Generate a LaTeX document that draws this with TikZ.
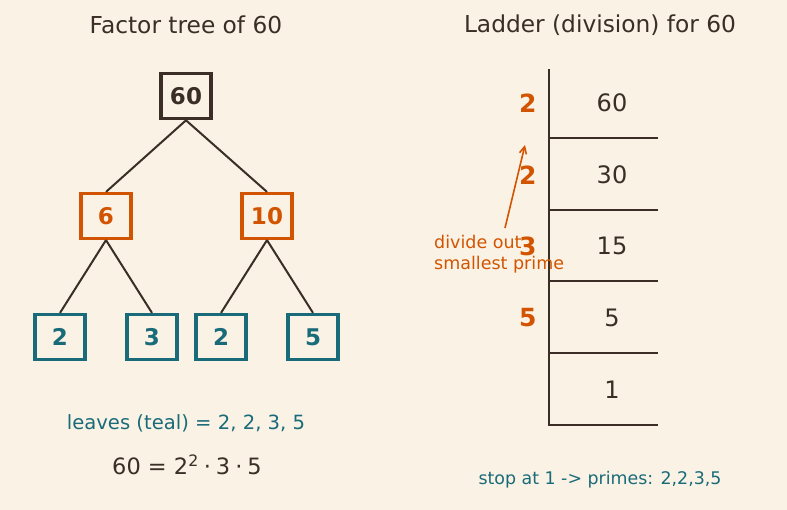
\documentclass[tikz,border=0pt]{standalone}
\usepackage{fontspec}
\setmainfont{DejaVu Sans}
\usetikzlibrary{arrows.meta,positioning}
\definecolor{bgcol}{RGB}{250,242,228}
\definecolor{ink}{RGB}{58,46,38}
\definecolor{orng}{RGB}{211,84,0}
\definecolor{tealc}{RGB}{26,107,122}
\newcommand{\sz}[1]{\fontsize{#1}{1.2\dimexpr#1pt\relax}\selectfont}

\begin{document}
\begin{tikzpicture}[
  x=1pt, y=-1pt,
  title/.style={text=ink, font=\sz{23.3}},
  fbox/.style={draw, line width=3.2pt, minimum width=50pt, minimum height=45pt,
               inner sep=0pt, font=\sz{23}\bfseries},
  rootbox/.style={fbox, draw=ink, text=ink, line width=3.6pt},
  midbox/.style={fbox, draw=orng, text=orng},
  leafbox/.style={fbox, draw=tealc, text=tealc},
  branch/.style={draw=ink, line width=2pt},
  rung/.style={draw=ink, line width=2.5pt},
  num/.style={text=ink, font=\sz{24}},
  dvs/.style={text=orng, font=\sz{25}\bfseries, anchor=east},
  ar/.style={-{Straight Barb[length=7pt,width=7pt]}, draw=orng, line width=1.6pt},
]
  \fill[bgcol] (0,0) rectangle (787,510);
  \useasboundingbox (0,0) rectangle (787,510);

  % factor tree
  \node[title] (tl) at (186,25) {Factor tree of 60};
  \node[rootbox] (r60) at (186,96) {60};
  \node[midbox] (n6) at (106,216) {6};
  \node[midbox] (n10) at (267,216) {10};
  \node[leafbox] (la) at (60,337) {2};
  \node[leafbox] (lb) at (152,337) {3};
  \node[leafbox] (lc) at (221,337) {2};
  \node[leafbox] (ld) at (313,337) {5};

  \draw[branch] (r60.south) -- (n6.north);
  \draw[branch] (r60.south) -- (n10.north);
  \draw[branch] (n6.south) -- (la.north);
  \draw[branch] (n6.south) -- (lb.north);
  \draw[branch] (n10.south) -- (lc.north);
  \draw[branch] (n10.south) -- (ld.north);

  \node[text=tealc, font=\sz{19.6}] (leaves) at (186,423) {leaves (teal) = 2, 2, 3, 5};
  \node[text=ink, font=\sz{22.5}] (prod) at (187,465)
    {60 = 2\raisebox{1pt}{\textsuperscript{2}}\:⋅\:3\:⋅\:5};

  % ladder
  \node[title] (tr) at (600,25) {Ladder (division) for 60};
  \foreach \v/\y/\top [count=\i] in {60/103/69, 30/175/139, 15/246/210, 5/318/282, 1/390/354} {
    \node[num] (q\i) at (612,\y) {\v};
    \draw[rung] (549,\top) -- (549,\y+35) -- (658,\y+35);
  }
  \node[dvs] (d1) at (540,103) {2};
  \node[dvs] (d2) at (540,175) {2};
  \node[dvs] (d3) at (540,246) {3};
  \node[dvs] (d4) at (540,318) {5};

  \node[text=orng, font=\fontsize{17.5}{21}\selectfont, align=left, anchor=west,
        inner sep=0pt] (note) at (434,254) {divide out\\smallest prime};
  \coordinate (tip) at (525,145);
  \draw[ar] (505,228) -- (tip);

  \node[text=tealc, font=\sz{17.4}] (stop) at (600,480) {stop at 1 -> primes: 2,2,3,5};
\end{tikzpicture}
\end{document}
